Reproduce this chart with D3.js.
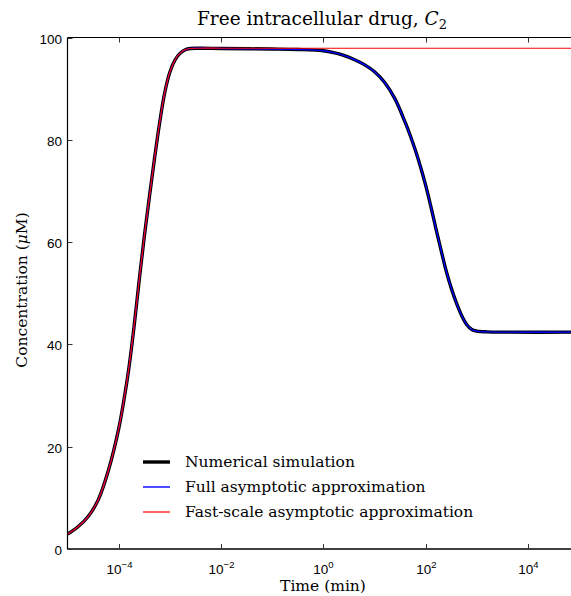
<!DOCTYPE html>
<html>
<head>
<meta charset="utf-8">
<script src="https://cdn.jsdelivr.net/npm/d3@7"></script>
<style>
  body { margin: 0; background: #fff; }
  svg { display: block; }
</style>
</head>
<body>
<svg id="chart" width="571" height="596"></svg>
<script>
// ---- data ----
const times = [1e-5, 1.58e-5, 2.51e-5, 3.98e-5, 6.31e-5, 1e-4, 1.26e-4, 1.58e-4, 2e-4, 2.51e-4,
  3.16e-4, 3.98e-4, 5.01e-4, 6.31e-4, 7.94e-4, 1e-3, 1.26e-3, 1.58e-3, 2e-3, 2.51e-3,
  3.98e-3, 1e-2, 1e-1, 0.316, 1, 1.58, 2.51, 3.98, 6.31, 10,
  15.8, 25.1, 39.8, 50.1, 63.1, 79.4, 100, 126, 158, 200,
  251, 316, 398, 501, 631, 794, 1000, 1585, 3162, 1e5];
const numerical = [2.9, 4.3, 6.3, 9.6, 15.4, 23.5, 29.0, 35.3, 43.5, 52.4,
  61.0, 68.8, 76.3, 83.3, 89.2, 93.2, 95.6, 96.9, 97.6, 97.85,
  97.9, 97.85, 97.75, 97.65, 97.4, 97.05, 96.5, 95.7, 94.7, 93.3,
  91.2, 88.0, 83.4, 80.8, 77.9, 74.7, 71.1, 67.0, 62.7, 58.4,
  54.4, 51.0, 48.1, 45.7, 43.9, 42.9, 42.6, 42.45, 42.4, 42.4];
const fullAsymptotic = [2.9, 4.3, 6.3, 9.6, 15.4, 23.5, 29.0, 35.3, 43.5, 52.4,
  61.0, 68.8, 76.3, 83.3, 89.2, 93.2, 95.6, 96.9, 97.6, 97.85,
  97.9, 97.85, 97.75, 97.65, 97.4, 97.05, 96.5, 95.7, 94.7, 93.3,
  91.2, 88.0, 83.4, 80.8, 77.9, 74.7, 71.1, 67.0, 62.7, 58.4,
  54.4, 51.0, 48.1, 45.7, 43.9, 42.9, 42.6, 42.45, 42.4, 42.4];
const fastScale = [2.9, 4.3, 6.3, 9.6, 15.4, 23.5, 29.0, 35.3, 43.5, 52.4,
  61.0, 68.8, 76.3, 83.3, 89.2, 93.2, 95.6, 96.9, 97.6, 97.85,
  97.9, 97.9, 97.9, 97.9, 97.9, 97.9, 97.9, 97.9, 97.9, 97.9,
  97.9, 97.9, 97.9, 97.9, 97.9, 97.9, 97.9, 97.9, 97.9, 97.9,
  97.9, 97.9, 97.9, 97.9, 97.9, 97.9, 97.9, 97.9, 97.9, 97.9];
const xTickValues = [1e-4, 1e-2, 1e0, 1e2, 1e4];
const xTickExponents = ["\u22124", "\u22122", "0", "2", "4"];
const yTickValues = [0, 20, 40, 60, 80, 100];
const legendLabels = ["Numerical simulation", "Full asymptotic approximation", "Fast-scale asymptotic approximation"];

// ---- layout ----
const svg = d3.select("#chart");
const L = 67.5, T = 37.5, B = 549, R = 579.2;
const x = d3.scaleLog().domain([1e-5, 1e5]).range([L, R]);
const y = d3.scaleLinear().domain([0, 100]).range([B, T]);

svg.append("defs").append("clipPath").attr("id", "clip")
  .append("rect").attr("x", L).attr("y", T).attr("width", R - L).attr("height", B - T);

const line = vals => d3.line()
  .x((d, i) => x(times[i]))
  .y(d => y(d))
  .curve(d3.curveCatmullRom.alpha(0.5))(vals);

const g = svg.append("g").attr("clip-path", "url(#clip)");
g.append("path").attr("d", line(numerical)).attr("fill", "none")
  .attr("stroke", "#000").attr("stroke-width", 3.4).attr("stroke-linejoin", "round");
g.append("path").attr("d", line(fullAsymptotic)).attr("fill", "none")
  .attr("stroke", "#0000ff").attr("stroke-width", 1.4);
g.append("path").attr("d", line(fastScale)).attr("fill", "none")
  .attr("stroke", "#ff0000").attr("stroke-width", 1.2);

// ---- axes ----
const tickColor = "#333";
svg.append("line").attr("x1", L).attr("x2", 571).attr("y1", T).attr("y2", T)
  .attr("stroke", "#000").attr("stroke-width", 1.2);
svg.append("line").attr("x1", L).attr("x2", 571).attr("y1", B).attr("y2", B)
  .attr("stroke", "#000").attr("stroke-width", 1.6);
svg.append("line").attr("x1", L).attr("x2", L).attr("y1", T).attr("y2", B)
  .attr("stroke", "#000").attr("stroke-width", 1.2);

const sans = "Liberation Sans, Arial, sans-serif";
xTickValues.forEach((v, i) => {
  const px = Math.round(x(v)) + 0.5;
  svg.append("line").attr("x1", px).attr("x2", px).attr("y1", T).attr("y2", T + 5)
    .attr("stroke", tickColor).attr("stroke-width", 1);
  svg.append("line").attr("x1", px).attr("x2", px).attr("y1", B).attr("y2", B - 5)
    .attr("stroke", tickColor).attr("stroke-width", 1);
  const t = svg.append("text").attr("x", px).attr("y", 574)
    .attr("text-anchor", "middle")
    .attr("font-family", sans).attr("font-size", 13.5);
  t.append("tspan").text("10");
  t.append("tspan").attr("dy", -6).attr("font-size", 9.5).text(xTickExponents[i]);
});

yTickValues.forEach(v => {
  const py = Math.round(y(v)) + 0.5;
  svg.append("line").attr("x1", L).attr("x2", L + 5).attr("y1", py).attr("y2", py)
    .attr("stroke", tickColor).attr("stroke-width", 1);
  svg.append("text").attr("x", 62).attr("y", py + 5)
    .attr("text-anchor", "end")
    .attr("font-family", sans).attr("font-size", 13.5)
    .text(v);
});

// ---- titles ----
const serif = "DejaVu Serif, Liberation Serif, serif";
const title = svg.append("text").attr("x", 322).attr("y", 25).attr("text-anchor", "middle")
  .attr("font-family", serif).attr("font-size", 18.5);
title.append("tspan").text("Free intracellular drug, ");
title.append("tspan").attr("font-style", "italic").text("C");
title.append("tspan").attr("dy", 4).attr("font-size", 13).text("2");

svg.append("text").attr("x", 323).attr("y", 591).attr("text-anchor", "middle")
  .attr("font-family", serif).attr("font-size", 15.5).text("Time (min)");

const yl = svg.append("text").attr("transform", "translate(27,290) rotate(-90)")
  .attr("text-anchor", "middle").attr("font-family", serif).attr("font-size", 15.5);
yl.append("tspan").text("Concentration (");
yl.append("tspan").attr("font-style", "italic").text("\u03bc");
yl.append("tspan").text("M)");

// ---- legend ----
const legendStyles = [
  { color: "#000", w: 3.4 },
  { color: "#0000ff", w: 1.4 },
  { color: "#ff0000", w: 1.2 }
];
legendLabels.forEach((lab, i) => {
  const ly = 462 + i * 25;
  svg.append("line").attr("x1", 143).attr("x2", 170).attr("y1", ly).attr("y2", ly)
    .attr("stroke", legendStyles[i].color).attr("stroke-width", legendStyles[i].w);
  svg.append("text").attr("x", 185).attr("y", ly + 5)
    .attr("font-family", serif).attr("font-size", 15.5).text(lab);
});
</script>
</body>
</html>
